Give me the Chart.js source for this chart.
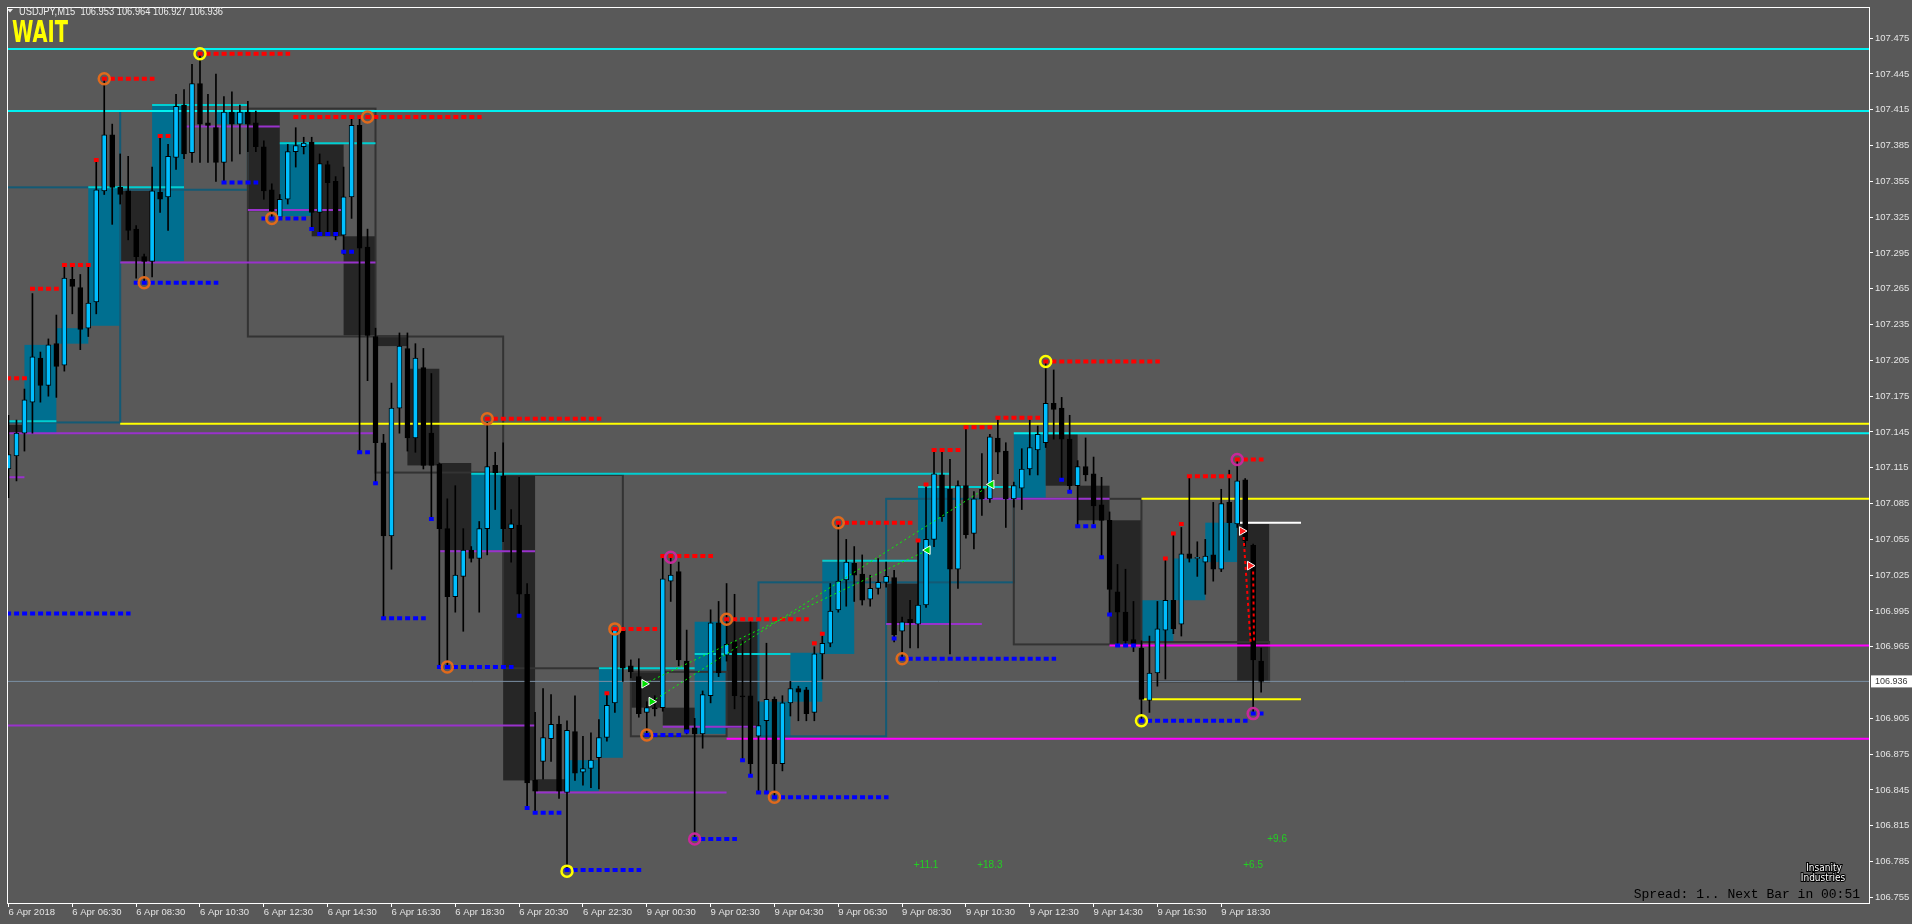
<!DOCTYPE html>
<html>
<head>
<meta charset="utf-8">
<script src="https://cdn.jsdelivr.net/npm/chart.js@4"></script>
<style>
  html, body { margin: 0; padding: 0; background: #595959; overflow: hidden; }
</style>
</head>
<body>
<canvas id="chart" width="1912" height="924"></canvas>
<script>
// USDJPY M15 candles (bar index 0 = 6 Apr 04:30)
const barOpen = [
  107.114,107.125,107.144,107.170,107.207,107.184,107.219,107.201,107.273,107.266,
  107.232,107.254,107.347,107.394,107.350,107.347,107.315,107.292,107.288,107.346,
  107.342,107.375,107.419,107.379,107.437,107.404,107.400,107.371,107.413,107.403,
  107.413,107.404,107.384,107.348,107.325,107.340,107.380,107.384,107.388,107.329,
  107.369,107.355,107.310,107.342,107.402,107.300,107.225,107.136,107.058,107.165,
  107.215,107.140,107.199,107.144,107.118,107.064,107.007,107.024,107.046,107.039,
  107.064,107.117,107.108,107.064,107.067,107.009,106.853,106.869,106.888,106.900,
  106.843,106.894,106.860,106.863,106.872,106.889,106.918,106.979,106.949,106.940,
  106.910,106.914,106.914,107.020,107.028,106.953,106.897,106.892,106.924,106.985,
  106.958,106.969,106.924,106.924,106.890,106.903,106.921,106.867,106.918,106.930,
  106.929,106.910,106.959,106.968,106.996,107.021,107.035,107.026,107.005,107.014,
  107.019,107.023,106.978,106.988,106.984,107.000,107.055,107.109,107.097,107.030,
  107.100,107.060,107.097,107.089,107.140,107.129,107.089,107.098,107.114,107.130,
  107.136,107.169,107.165,107.139,107.100,107.116,107.110,107.084,107.071,107.011,
  106.994,106.971,106.964,106.920,106.943,106.979,107.004,106.984,107.043,107.039,
  107.036,107.042,107.030,107.086,107.068,107.105,107.050,106.953
];
const barHigh = [
  107.159,107.155,107.181,107.261,107.212,107.223,107.243,107.284,107.285,107.277,
  107.284,107.372,107.440,107.403,107.378,107.376,107.318,107.294,107.367,107.394,
  107.386,107.428,107.432,107.453,107.463,107.428,107.445,107.426,107.430,107.419,
  107.422,107.414,107.389,107.353,107.344,107.386,107.400,107.392,107.392,107.378,
  107.372,107.359,107.367,107.409,107.407,107.315,107.232,107.143,107.186,107.228,
  107.228,107.219,107.215,107.194,107.119,107.089,107.100,107.064,107.049,107.070,
  107.153,107.128,107.136,107.080,107.107,107.018,106.910,106.930,106.925,106.907,
  106.903,106.924,106.890,106.893,106.904,106.925,106.981,106.981,106.954,106.955,
  106.919,106.924,107.039,107.040,107.036,106.979,106.905,106.928,106.996,107.003,
  107.018,107.009,106.970,106.986,106.919,106.968,106.923,106.924,106.936,106.932,
  106.931,106.965,106.974,107.018,107.068,107.055,107.049,107.042,107.025,107.039,
  107.036,107.029,106.990,107.004,107.053,107.099,107.128,107.129,107.122,107.104,
  107.149,107.095,107.127,107.143,107.155,107.136,107.103,107.131,107.155,107.150,
  107.203,107.197,107.174,107.159,107.121,107.140,107.124,107.107,107.078,107.034,
  107.030,107.003,106.970,106.974,107.003,107.038,107.059,107.065,107.107,107.053,
  107.055,107.086,107.097,107.113,107.121,107.106,107.051,106.964
];
const barLow = [
  107.090,107.104,107.129,107.144,107.170,107.175,107.174,107.196,107.244,107.214,
  107.225,107.244,107.344,107.319,107.336,107.306,107.274,107.269,107.275,107.329,
  107.314,107.365,107.374,107.371,107.371,107.371,107.355,107.354,107.372,107.378,
  107.380,107.380,107.340,107.324,107.323,107.336,107.367,107.378,107.314,107.311,
  107.311,107.306,107.294,107.324,107.129,107.188,107.102,106.989,107.030,107.144,
  107.129,107.128,107.114,107.072,106.950,106.948,106.994,106.978,107.036,106.994,
  107.042,107.080,107.053,107.036,106.992,106.830,106.826,106.854,106.869,106.838,
  106.778,106.853,106.849,106.847,106.846,106.886,106.910,106.936,106.939,106.906,
  106.892,106.907,106.911,107.003,106.949,106.892,106.805,106.880,106.918,106.940,
  106.953,106.913,106.870,106.857,106.844,106.843,106.839,106.861,106.907,106.903,
  106.903,106.903,106.938,106.965,106.994,106.999,107.003,107.000,106.999,107.009,
  107.015,106.969,106.954,106.964,106.964,106.998,107.049,107.070,106.959,107.014,
  107.056,107.047,107.075,107.086,107.110,107.065,107.082,107.080,107.109,107.109,
  107.132,107.139,107.105,107.095,107.067,107.104,107.068,107.040,106.992,106.967,
  106.967,106.961,106.903,106.910,106.932,106.938,106.976,106.974,107.036,107.024,
  107.009,107.020,107.028,107.046,107.065,107.049,106.909,106.927
];
const barClose = [
  107.126,107.144,107.172,107.208,107.184,107.218,107.200,107.274,107.267,107.231,
  107.253,107.348,107.394,107.350,107.344,107.314,107.292,107.288,107.347,107.340,
  107.376,107.418,107.378,107.437,107.403,107.402,107.371,107.413,107.403,107.413,
  107.403,107.384,107.347,107.330,107.340,107.380,107.385,107.387,107.329,107.370,
  107.354,107.309,107.342,107.402,107.299,107.226,107.136,107.058,107.165,107.217,
  107.140,107.207,107.117,107.117,107.064,107.007,107.025,107.046,107.039,107.064,
  107.116,107.111,107.064,107.068,107.009,106.851,106.844,106.889,106.900,106.844,
  106.895,106.859,106.863,106.870,106.889,106.916,106.979,106.947,106.944,106.909,
  106.914,106.913,107.022,107.025,106.954,106.894,106.892,106.925,106.985,106.943,
  106.967,106.924,106.923,106.867,106.899,106.921,106.867,106.918,106.930,106.927,
  106.909,106.959,106.968,106.995,107.020,107.036,107.025,107.004,107.014,107.019,
  107.024,106.975,106.986,106.985,107.000,107.055,107.110,107.074,107.030,107.100,
  107.059,107.089,107.089,107.141,107.128,107.089,107.100,107.114,107.132,107.143,
  107.169,107.164,107.139,107.100,107.116,107.109,107.083,107.071,107.013,106.994,
  106.970,106.967,106.921,106.943,106.980,107.004,106.980,107.043,107.039,107.040,
  107.041,107.030,107.085,107.069,107.104,107.054,106.954,106.936
];

const xTickBars = [0, 8, 16, 24, 32, 40, 48, 56, 64, 72, 80, 88, 96, 104, 112, 120, 128, 136, 144, 152];
const xTickLabels = ['6 Apr 2018', '6 Apr 06:30', '6 Apr 08:30', '6 Apr 10:30', '6 Apr 12:30',
  '6 Apr 14:30', '6 Apr 16:30', '6 Apr 18:30', '6 Apr 20:30', '6 Apr 22:30', '9 Apr 00:30',
  '9 Apr 02:30', '9 Apr 04:30', '9 Apr 06:30', '9 Apr 08:30', '9 Apr 10:30', '9 Apr 12:30',
  '9 Apr 14:30', '9 Apr 16:30', '9 Apr 18:30'];
const yTickValues = [107.475, 107.445, 107.415, 107.385, 107.355, 107.325, 107.295, 107.265,
  107.235, 107.205, 107.175, 107.145, 107.115, 107.085, 107.055, 107.025, 106.995, 106.965,
  106.905, 106.875, 106.845, 106.815, 106.785, 106.755];

// horizontal levels: [fromBar, toBar, price]
const cyanLevels = [[-1, 240, 107.466], [-1, 240, 107.414], [126, 240, 107.144]];
const cyanSegments = [[0, 6, 107.154], [10, 22, 107.350], [18, 30, 107.419], [34, 46, 107.387],
  [58, 118, 107.110], [74, 86, 106.947], [86, 98, 106.959], [102, 114, 107.037], [114, 126, 107.099]];
const yellowLevels = [[14, 240, 107.152], [142, 240, 107.089], [142, 162, 106.921]];
const magentaLevels = [[138, 240, 106.966], [90, 240, 106.888]];
const purpleLevels = [[-1, 46, 107.144], [-1, 66, 106.899], [0, 2, 107.107], [22, 34, 107.401],
  [30, 42, 107.331], [14, 46, 107.287], [54, 66, 107.045], [66, 90, 106.843], [82, 94, 106.898],
  [110, 122, 106.984], [122, 138, 107.089]];
const whiteLevels = [[154, 162, 107.069]];
const lastPrice = 106.936;

// zones: [fromBar, toBar, top, bottom]
const bullZones = [[2, 6, 107.218, 107.144], [6, 10, 107.232, 107.219], [10, 14, 107.350, 107.234],
  [18, 22, 107.419, 107.288], [26, 30, 107.414, 107.403], [34, 38, 107.388, 107.326],
  [58, 62, 107.110, 107.046], [70, 74, 106.870, 106.844], [74, 77, 106.947, 106.872],
  [86, 90, 106.986, 106.892], [94, 98, 106.919, 106.889], [98, 102, 106.960, 106.919],
  [102, 106, 107.036, 106.959], [114, 118, 107.099, 106.984], [126, 130, 107.144, 107.089],
  [142, 146, 107.004, 106.969], [146, 150, 107.039, 107.004], [150, 154, 107.069, 107.036]];
const bearZones = [[0, 2, 107.151, 107.144], [14, 18, 107.347, 107.288], [30, 34, 107.414, 107.330],
  [38, 42, 107.386, 107.309], [42, 46, 107.309, 107.226], [46, 50, 107.226, 107.217],
  [50, 54, 107.198, 107.117], [54, 58, 107.119, 107.046], [62, 66, 107.109, 106.853],
  [66, 70, 106.854, 106.844], [78, 82, 106.944, 106.914], [82, 86, 106.914, 106.899],
  [90, 94, 106.986, 106.897], [110, 114, 107.018, 106.984], [130, 134, 107.143, 107.100],
  [134, 138, 107.100, 107.071], [138, 142, 107.071, 106.967], [154, 158, 107.068, 106.936]];
const tealBoxes = [[-1, 14, 107.350, 107.153], [14, 30, 107.414, 107.348],
  [94, 110, 107.019, 106.890], [110, 126, 107.089, 107.019]];
const greyBoxes = [[30, 46, 107.416, 107.225], [46, 62, 107.225, 107.111], [62, 77, 107.109, 106.947],
  [78, 90, 106.944, 106.890], [126, 142, 107.089, 106.967], [142, 158, 106.969, 106.936]];

// fractal dot rows: [fromBar, toBar, price]
const redDots = [[24, 35, 107.462], [12, 18, 107.441], [36, 59, 107.409], [19, 20, 107.393],
  [11, 11, 107.373], [7, 10, 107.285], [3, 6, 107.265], [0, 2, 107.190], [60, 74, 107.156],
  [82, 88, 107.041], [76, 81, 106.980], [75, 75, 106.926], [90, 100, 106.988], [104, 113, 107.069],
  [101, 101, 106.968], [102, 102, 106.976], [114, 114, 107.054], [115, 115, 107.101],
  [116, 119, 107.130], [120, 123, 107.149], [124, 129, 107.157], [130, 144, 107.204],
  [148, 153, 107.108], [154, 157, 107.122], [145, 145, 107.039], [146, 146, 107.060], [147, 147, 107.068]];
const blueDots = [[0, 15, 106.993], [27, 31, 107.354], [32, 37, 107.324], [38, 38, 107.315],
  [39, 41, 107.311], [42, 43, 107.296], [16, 26, 107.270], [44, 45, 107.128], [46, 46, 107.102],
  [47, 52, 106.989], [53, 53, 107.072], [54, 63, 106.948], [64, 64, 106.991], [65, 65, 106.830],
  [66, 69, 106.826], [70, 79, 106.778], [86, 91, 106.804], [80, 84, 106.891], [85, 85, 106.894],
  [92, 92, 106.870], [93, 93, 106.857], [94, 95, 106.843], [96, 110, 106.839], [111, 111, 106.972],
  [112, 131, 106.955], [132, 132, 107.105], [133, 133, 107.095], [134, 136, 107.066],
  [137, 137, 107.040], [138, 138, 106.992], [139, 141, 106.966], [142, 155, 106.903], [156, 157, 106.909]];

// swing rings: [bar, price]
const yellowRings = [[24, 107.462], [70, 106.777], [130, 107.204], [142, 106.903]];
const orangeRings = [[12, 107.441], [45, 107.409], [17, 107.270], [33, 107.324], [60, 107.156],
  [55, 106.948], [76, 106.980], [80, 106.891], [90, 106.988], [104, 107.069], [96, 106.839], [112, 106.955]];
const magentaRings = [[83, 107.040], [86, 106.804], [154, 107.122], [156, 106.909]];

// trade arrows and dashed links
const greenArrows = [[79.7, 106.934, 90], [80.6, 106.919, 90], [115.2, 107.046, -90], [123.2, 107.101, -90]];
const greenLinks = [[79.7, 106.934, 115.2, 107.046], [80.6, 106.919, 123.2, 107.101]];
const redArrows = [[154.6, 107.062, 90], [155.6, 107.033, 90]];
const redLinks = [[154.8, 107.057, 155.7, 106.967], [156, 107.028, 156.1, 106.970]];
const profitLabels = [[115, 106.782, '+11.1'], [123, 106.782, '+18.3'], [156, 106.782, '+6.5'], [159, 106.804, '+9.6']];

const bars = barOpen.map((_, i) => i);
const wickData = bars.map(i => ({x: i, y: [barLow[i], barHigh[i]]}));
const bodyData = bars.map(i => ({x: i, y: [barOpen[i], barClose[i]]}));
const bodyColors = bars.map(i => barClose[i] >= barOpen[i] ? '#00bfff' : '#000000');

function levelPoints(list, pad) {
  const pts = [];
  list.forEach(([a, b, p]) => {
    pts.push({x: a - pad, y: p}, {x: b + pad, y: p}, {x: b + pad, y: null});
  });
  return pts;
}
function levelSet(list, color, width, order, dash, pad) {
  return {
    type: 'line', data: levelPoints(list, pad || 0), borderColor: color, borderWidth: width,
    borderDash: dash || [], pointRadius: 0, spanGaps: false, order: order, tension: 0,
    borderCapStyle: 'butt'
  };
}
function linkSet(list, color, width, dash) {
  const pts = [];
  list.forEach(([x1, y1, x2, y2]) => pts.push({x: x1, y: y1}, {x: x2, y: y2}, {x: x2, y: null}));
  return {type: 'line', data: pts, borderColor: color, borderWidth: width, borderDash: dash,
    pointRadius: 0, spanGaps: false, order: 2};
}
function ringSet(list, color) {
  return {type: 'line', showLine: false, data: list.map(([x, y]) => ({x, y})),
    pointStyle: 'circle', pointRadius: 5.5, pointBorderWidth: 2.5, pointBorderColor: color,
    pointBackgroundColor: 'rgba(0,0,0,0)', order: 1};
}
function arrowSet(list, fill, edge) {
  return {type: 'line', showLine: false, data: list.map(([x, y]) => ({x, y})),
    pointStyle: 'triangle', pointRadius: 5, pointRotation: list.map(a => a[2]),
    pointBackgroundColor: fill, pointBorderColor: edge, pointBorderWidth: 1, order: 0};
}

const overlay = {
  id: 'overlay',
  beforeDatasetsDraw(chart) {
    const {ctx, chartArea: a, scales: {x, y}} = chart;
    ctx.save();
    ctx.beginPath();
    ctx.rect(a.left, a.top, a.right - a.left, a.bottom - a.top);
    ctx.clip();
    const rect = z => {
      const x1 = x.getPixelForValue(z[0]), x2 = x.getPixelForValue(z[1]);
      const y1 = y.getPixelForValue(z[2]), y2 = y.getPixelForValue(z[3]);
      return [x1, y1, x2 - x1, y2 - y1];
    };
    ctx.fillStyle = '#006f90';
    bullZones.forEach(z => ctx.fillRect(...rect(z)));
    ctx.fillStyle = '#262626';
    bearZones.forEach(z => ctx.fillRect(...rect(z)));
    ctx.lineWidth = 2;
    ctx.strokeStyle = '#135a75';
    tealBoxes.forEach(z => ctx.strokeRect(...rect(z)));
    ctx.strokeStyle = '#333333';
    greyBoxes.forEach(z => ctx.strokeRect(...rect(z)));
    ctx.restore();
  },
  afterDatasetsDraw(chart) {
    const {ctx, scales: {x, y}} = chart;
    ctx.save();
    ctx.font = '10px "Liberation Sans", Arial, sans-serif';
    ctx.fillStyle = '#22d022';
    ctx.textAlign = 'center';
    ctx.textBaseline = 'middle';
    profitLabels.forEach(([bx, p, t]) => ctx.fillText(t, x.getPixelForValue(bx), y.getPixelForValue(p)));
    ctx.restore();
  },
  afterDraw(chart) {
    const {ctx, chartArea: a, scales: {y}} = chart;
    const n = barClose.length - 1;
    ctx.save();
    // frame
    ctx.strokeStyle = '#ffffff';
    ctx.lineWidth = 1;
    ctx.strokeRect(a.left - 0.5, a.top - 0.5, a.right - a.left + 1, a.bottom - a.top + 1);
    // header
    ctx.fillStyle = '#ececec';
    ctx.beginPath();
    ctx.moveTo(7, 9); ctx.lineTo(13, 9); ctx.lineTo(10, 12.5); ctx.closePath(); ctx.fill();
    const title = 'USDJPY,M15  ' + [barOpen[n], barHigh[n], barLow[n], barClose[n]].map(v => v.toFixed(3)).join(' ');
    ctx.font = '11px "Liberation Sans", Arial, sans-serif';
    const tw = ctx.measureText(title).width;
    ctx.translate(19, 15);
    ctx.scale(204 / tw, 1);
    ctx.textBaseline = 'alphabetic';
    ctx.fillText(title, 0, 0);
    ctx.setTransform(1, 0, 0, 1, 0, 0);
    // signal
    ctx.font = 'bold 30px "Liberation Sans Narrow", "DejaVu Sans Condensed", sans-serif';
    const w = ctx.measureText('WAIT').width;
    ctx.translate(12, 42);
    ctx.scale(56 / w, 1);
    ctx.fillStyle = '#ffff00';
    ctx.fillText('WAIT', 0, 0);
    ctx.setTransform(1, 0, 0, 1, 0, 0);
    // current price tag
    const py = y.getPixelForValue(lastPrice);
    ctx.fillStyle = '#ffffff';
    ctx.fillRect(a.right + 2, py - 6, 42, 12);
    ctx.fillStyle = '#3a3a3a';
    ctx.font = '9px "Liberation Sans", Arial, sans-serif';
    ctx.textBaseline = 'middle';
    ctx.fillText(lastPrice.toFixed(3), a.right + 6, py);
    // footer info
    ctx.font = '13px "Liberation Mono", "Courier New", monospace';
    ctx.fillStyle = '#000000';
    ctx.textAlign = 'right';
    ctx.fillText('Spread: 1.. Next Bar in 00:51', a.right - 9, a.bottom - 8);
    ctx.textAlign = 'center';
    ctx.font = '10px "Liberation Sans Narrow", "DejaVu Sans Condensed", sans-serif';
    ctx.lineWidth = 2;
    ctx.strokeStyle = '#000000';
    ctx.fillStyle = '#ffffff';
    ctx.strokeText('Insanity', a.right - 45, a.bottom - 35);
    ctx.fillText('Insanity', a.right - 45, a.bottom - 35);
    ctx.strokeText('Industries', a.right - 46, a.bottom - 25);
    ctx.fillText('Industries', a.right - 46, a.bottom - 25);
    ctx.restore();
  }
};

const tickFont = {family: '"Liberation Sans", Arial, sans-serif', size: 9.5};

new Chart(document.getElementById('chart'), {
  type: 'bar',
  data: {
    datasets: [
      {type: 'line', data: [{x: -1, y: lastPrice}, {x: 240, y: lastPrice}], borderColor: '#7a8fa3',
        borderWidth: 1, pointRadius: 0, order: 12},
      levelSet(purpleLevels, '#9932cc', 2, 10),
      levelSet(cyanSegments, '#00ced1', 2, 10),
      levelSet(cyanLevels, '#00f0f0', 2, 10),
      levelSet(yellowLevels, '#ffff00', 2, 9),
      levelSet(magentaLevels, '#ff00ff', 2, 9),
      levelSet(whiteLevels, '#ffffff', 2, 9),
      {type: 'bar', data: wickData, backgroundColor: '#000000', barThickness: 1, grouped: false, order: 6},
      {type: 'bar', data: bodyData, backgroundColor: bodyColors, borderColor: '#000000', borderWidth: 1,
        borderSkipped: false, barThickness: 5, minBarLength: 1, grouped: false, order: 5},
      levelSet(redDots, '#ff0000', 4, 3, [5, 3], 0.3),
      levelSet(blueDots, '#0000ff', 4, 3, [5, 3], 0.3),
      linkSet(greenLinks, '#00ff00', 1, [2, 3]),
      linkSet(redLinks, '#ff0000', 2, [3, 3]),
      ringSet(yellowRings, '#ffff00'),
      ringSet(orangeRings, '#e06a1c'),
      ringSet(magentaRings, '#c8289a'),
      arrowSet(greenArrows, '#00e000', '#ffffff'),
      arrowSet(redArrows, '#ff2020', '#ffffff')
    ]
  },
  options: {
    responsive: false,
    animation: false,
    events: [],
    layout: {padding: {left: 3, top: 3, right: 0, bottom: 0}},
    plugins: {legend: {display: false}, tooltip: {enabled: false}},
    scales: {
      x: {
        type: 'linear', offset: false, bounds: 'data',
        min: -0.0625, max: 233.1875,
        grid: {display: true, drawOnChartArea: false, drawTicks: true, tickLength: 4, color: '#ffffff', offset: false},
        border: {display: true, color: '#ffffff', width: 1},
        ticks: {color: '#e4e4e4', font: tickFont, padding: 0, align: 'start', autoSkip: false,
          maxRotation: 0, minRotation: 0, callback: (v, i) => xTickLabels[i]},
        afterBuildTicks: s => { s.ticks = xTickBars.map(v => ({value: v})); },
        afterFit: s => { s.height = 21; }
      },
      y: {
        type: 'linear', position: 'right', bounds: 'data',
        min: 106.7503, max: 107.5003,
        grid: {display: true, drawOnChartArea: false, drawTicks: true, tickLength: 4, color: '#ffffff'},
        border: {display: true, color: '#ffffff', width: 1},
        ticks: {color: '#e4e4e4', font: tickFont, padding: 2, autoSkip: false, callback: v => v.toFixed(3)},
        afterBuildTicks: s => { s.ticks = yTickValues.map(v => ({value: v})); },
        afterFit: s => { s.width = 43; }
      }
    }
  },
  plugins: [overlay]
});
</script>
</body>
</html>
